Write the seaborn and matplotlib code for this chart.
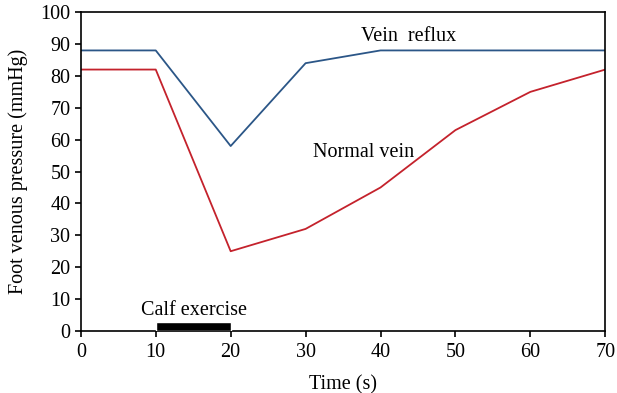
import seaborn as sns
import matplotlib.pyplot as plt
import pandas as pd

# values
time_s = [0, 10, 20, 30, 40, 50, 60, 70]
normal_vein = [82, 82, 25, 32, 45, 63, 75, 82]
vein_reflux = [88, 88, 58, 84, 88, 88, 88, 88]
exercise_start = 10
exercise_end = 20
exercise_height = 2.7

df = pd.DataFrame({"time": time_s, "Normal vein": normal_vein, "Vein reflux": vein_reflux})

sns.set_style("ticks")
plt.rcParams["font.family"] = ["Liberation Serif", "DejaVu Serif"]
plt.rcParams["text.color"] = "black"
plt.rcParams["axes.labelcolor"] = "black"

fig = plt.figure(figsize=(6.17, 3.93), dpi=100)
ax = fig.add_axes([0.131, 0.158, 0.850, 0.811])

sns.lineplot(data=df, x="time", y="Vein reflux", color="#2B5687", lw=1.3, ax=ax)
sns.lineplot(data=df, x="time", y="Normal vein", color="#C4222C", lw=1.3, ax=ax)

ax.bar((exercise_start + exercise_end) / 2, exercise_height, width=exercise_end - exercise_start,
       bottom=0, color="black", zorder=3)

fs = 14.5
ax.text(43.8, 92.3, "Vein  reflux", fontsize=fs, ha="center", va="center")
ax.text(37.7, 56, "Normal vein", fontsize=fs, ha="center", va="center")
ax.text(15.1, 6.5, "Calf exercise", fontsize=fs, ha="center", va="center")

ax.set_xlim(0, 70)
ax.set_ylim(0, 100)
ax.set_xticks(range(0, 71, 10))
ax.set_yticks(range(0, 101, 10))
ax.tick_params(axis="both", labelsize=fs, length=4, width=1.2, direction="out", colors="black")
ax.tick_params(axis="x", pad=5)
ax.set_xlabel("Time (s)", fontsize=fs, labelpad=9)
ax.set_ylabel("Foot venous pressure (mmHg)", fontsize=fs, labelpad=9)
for s in ax.spines.values():
    s.set_color("black")
    s.set_linewidth(1.2)

fig.savefig("out.png", dpi=100)
plt.close(fig)
